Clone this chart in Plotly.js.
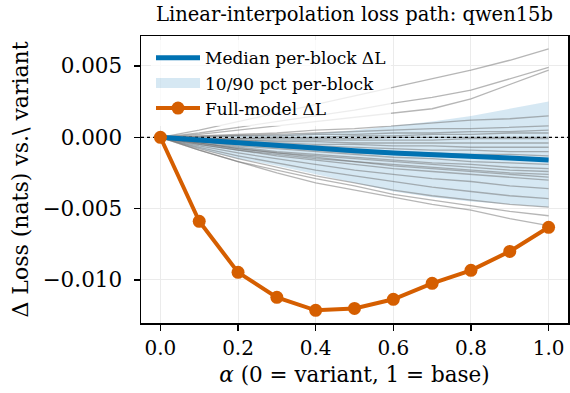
<!DOCTYPE html>
<html>
<head>
<meta charset="utf-8">
<script src="https://cdn.plot.ly/plotly-3.0.1.min.js"></script>
<style>html,body{margin:0;padding:0;background:#fff}#chart{width:570px;height:393px}</style>
</head>
<body>
<div id="chart"></div>
<script>
const alphas = [0, 0.1, 0.2, 0.3, 0.4, 0.5, 0.6, 0.7, 0.8, 0.9, 1.0];
const fullModel = [0, -0.00589, -0.00947, -0.01122, -0.01213, -0.0120, -0.01136, -0.01024, -0.00933, -0.0080, -0.00631];
const medianBlock = [0, -0.0002, -0.0004, -0.0006, -0.0008, -0.00095, -0.0011, -0.0012, -0.0013, -0.00145, -0.0016];
const bandLow = [0, -0.0008, -0.0015, -0.0020, -0.0026, -0.0032, -0.0038, -0.0042, -0.0045, -0.0047, -0.0049];
const bandHigh = [0, 0.00005, 0.0001, 0.0002, 0.0003, 0.0005, 0.0008, 0.0011, 0.0015, 0.0020, 0.0025];
const blockLines = [
  [0, 0.0005, 0.0011, 0.0017, 0.0023, 0.0029, 0.0035, 0.0041, 0.0047, 0.0054, 0.0062],
  [0, 0.0003, 0.0007, 0.0011, 0.0015, 0.0019, 0.0024, 0.0028, 0.0033, 0.0041, 0.0049],
  [0, 0.0002, 0.0005, 0.0008, 0.0011, 0.0014, 0.0017, 0.0020, 0.0027, 0.0037, 0.0047],
  [0, 0.0001, 0.0002, 0.0003, 0.0005, 0.0006, 0.0008, 0.0010, 0.0012, 0.0013, 0.0015],
  [0, 0.00005, 0.0001, 0.0002, 0.0003, 0.0004, 0.0005, 0.0006, 0.0006, 0.0007, 0.0008],
  [0, 0.0000, 0.0001, 0.0001, 0.0002, 0.0002, 0.0003, 0.0003, 0.0004, 0.0004, 0.0005],
  [0, -0.0001, -0.0001, 0, 0, 0.0001, 0.0001, 0.0002, 0.0002, 0.0003, 0.0003],
  [0, -0.0001, -0.0001, -0.0001, -0.0001, -0.0001, 0, 0, 0, 0, 0],
  [0, -0.0001, -0.0002, -0.0002, -0.0002, -0.0002, -0.0002, -0.0002, -0.0001, -0.0001, -0.0001],
  [0, -0.0001, -0.0002, -0.0003, -0.0003, -0.0004, -0.0004, -0.0004, -0.0004, -0.0004, -0.0004],
  [0, -0.0002, -0.0003, -0.0004, -0.0005, -0.0005, -0.0006, -0.0006, -0.0007, -0.0007, -0.0007],
  [0, -0.0002, -0.0004, -0.0005, -0.0006, -0.0007, -0.0008, -0.0009, -0.0009, -0.0010, -0.0010],
  [0, -0.0003, -0.0005, -0.0006, -0.0008, -0.0009, -0.0010, -0.0011, -0.0012, -0.0012, -0.0013],
  [0, -0.0003, -0.0005, -0.0007, -0.0009, -0.0011, -0.0012, -0.0013, -0.0014, -0.0015, -0.0016],
  [0, -0.0003, -0.0006, -0.0008, -0.0010, -0.0012, -0.0014, -0.0015, -0.0017, -0.0018, -0.0019],
  [0, -0.0004, -0.0007, -0.0010, -0.0012, -0.0014, -0.0016, -0.0018, -0.0019, -0.0021, -0.0022],
  [0, -0.0004, -0.0008, -0.0011, -0.0013, -0.0015, -0.0017, -0.0019, -0.0021, -0.0023, -0.0024],
  [0, -0.0005, -0.0009, -0.0012, -0.0015, -0.0017, -0.0019, -0.0021, -0.0023, -0.0025, -0.0026],
  [0, -0.0004, -0.0008, -0.0011, -0.0014, -0.0017, -0.0020, -0.0022, -0.0024, -0.0026, -0.0028],
  [0, -0.0005, -0.0009, -0.0013, -0.0016, -0.0019, -0.0022, -0.0024, -0.0026, -0.0028, -0.0030],
  [0, -0.0006, -0.0011, -0.0015, -0.0019, -0.0023, -0.0026, -0.0029, -0.0031, -0.0034, -0.0036],
  [0, -0.0007, -0.0013, -0.0018, -0.0023, -0.0027, -0.0031, -0.0035, -0.0038, -0.0041, -0.0043],
  [0, -0.0008, -0.0015, -0.0021, -0.0027, -0.0032, -0.0037, -0.0041, -0.0044, -0.0047, -0.0049],
  [0, -0.0009, -0.0017, -0.0023, -0.0029, -0.0034, -0.0040, -0.0044, -0.0048, -0.0052, -0.0055],
  [0, -0.0009, -0.0017, -0.0025, -0.0032, -0.0037, -0.0042, -0.0047, -0.0051, -0.0057, -0.0062]
];
const xRange = [-0.05, 1.05];
const yRange = [-0.01302, 0.0071];

const FONT = "DejaVu Serif, serif";
const BAND = 'rgba(0,114,178,0.16)';
const traces = [];
traces.push({x: alphas, y: bandLow, type: 'scatter', mode: 'lines', line: {width: 0, color: 'rgba(0,114,178,0)'},
  showlegend: false, hoverinfo: 'skip'});
traces.push({x: alphas, y: bandHigh, type: 'scatter', mode: 'lines', fill: 'tonexty',
  fillcolor: BAND, line: {width: 0, color: 'rgba(0,114,178,0)'}, showlegend: false, hoverinfo: 'skip'});
blockLines.forEach(function (ys) {
  traces.push({x: alphas, y: ys, type: 'scatter', mode: 'lines',
    line: {color: 'rgba(110,110,110,0.5)', width: 1.3}, showlegend: false, hoverinfo: 'skip'});
});
traces.push({x: xRange, y: [0, 0], type: 'scatter', mode: 'lines',
  line: {color: 'black', width: 1.2, dash: 'dot'}, showlegend: false, hoverinfo: 'skip'});
traces.push({x: alphas, y: medianBlock, type: 'scatter', mode: 'lines',
  line: {color: '#0072B2', width: 5}, name: 'Median per-block ΔL', legendrank: 1});
// legend swatch for the 10/90 band (the band itself is drawn by the fill trace above)
traces.push({x: [null], y: [null], type: 'scatter', mode: 'lines',
  line: {color: BAND, width: 14}, name: '10/90 pct per-block', legendrank: 2});
traces.push({x: alphas, y: fullModel, type: 'scatter', mode: 'lines+markers',
  line: {color: '#D55E00', width: 4}, marker: {color: '#D55E00', size: 13},
  name: 'Full-model ΔL', legendrank: 3});

const layout = {
  width: 570, height: 393,
  margin: {l: 141, r: 2, t: 36, b: 70, autoexpand: false},
  paper_bgcolor: 'white', plot_bgcolor: 'white',
  font: {family: FONT, color: 'black'},
  title: {text: 'Linear-interpolation loss path: qwen15b', font: {family: FONT, size: 19.5, color: 'black'},
    x: 0.5, xref: 'paper', xanchor: 'center', y: 1 - 14 / 393, yref: 'container', yanchor: 'middle', automargin: false},
  xaxis: {range: xRange, dtick: 0.2, tick0: 0, tickformat: '.1f', ticks: 'outside', ticklen: 6, tickwidth: 1.2,
    tickcolor: 'black', showline: true, linecolor: 'black', linewidth: 1.5, mirror: true, automargin: false,
    showgrid: true, gridcolor: '#ebebeb', gridwidth: 1, zeroline: false,
    tickfont: {family: FONT, size: 20, color: 'black'},
    title: {text: '<i>α</i> (0 = variant, 1 = base)', font: {family: FONT, size: 21.5, color: 'black'}, standoff: 8}},
  yaxis: {range: yRange, dtick: 0.005, tick0: 0, tickformat: '.3f', ticks: 'outside', ticklen: 6, tickwidth: 1.2,
    tickcolor: 'black', showline: true, linecolor: 'black', linewidth: 1.5, mirror: true, automargin: false,
    ticklabelstandoff: 7, showgrid: true, gridcolor: '#ebebeb', gridwidth: 1, zeroline: false,
    tickfont: {family: FONT, size: 21.5, color: 'black'},
    title: {text: 'Δ Loss (nats) vs.\\ variant', font: {family: FONT, size: 22, color: 'black'}, standoff: 8}},
  legend: {x: 10 / 427, y: 0.985, xanchor: 'left', yanchor: 'top', bgcolor: 'rgba(255,255,255,0.75)',
    borderwidth: 0, itemwidth: 44, font: {family: FONT, size: 17, color: 'black'}, traceorder: 'normal'},
  showlegend: true
};

Plotly.newPlot('chart', traces, layout, {displayModeBar: false, staticPlot: true});
</script>
</body>
</html>
